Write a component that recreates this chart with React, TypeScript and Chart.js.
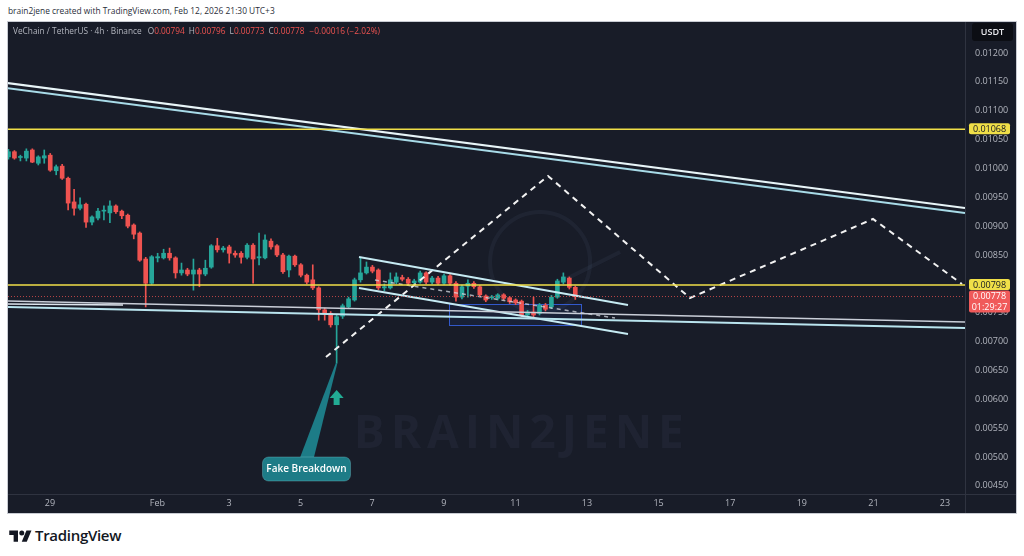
import React, { useEffect, useRef } from "react";
import { Chart, registerables } from "chart.js";

Chart.register(...registerables);

// ---------- texts ----------
const HEADER_TEXT = "brain2jene created with TradingView.com, Feb 12, 2026 21:30 UTC+3";
const SYMBOL_TITLE = "VeChain / TetherUS · 4h · Binance";
const QUOTE = "USDT";
const COUNTDOWN = "01:29:27";
const CALLOUT_TEXT = "Fake Breakdown";
const WATERMARK = "BRAIN2JENE";
const BRAND = "TradingView";

// ---------- time axis (days since Jan 29, 00:00) ----------
const X_MIN = -1.173;
const X_MAX = 25.559;
const xTickDays = [0, 3, 5, 7, 9, 11, 13, 15, 17, 19, 21, 23, 25];
const xTickLabels = ["29", "Feb", "3", "5", "7", "9", "11", "13", "15", "17", "19", "21", "23"];

// ---------- price axis ----------
const Y_MIN = 0.004358;
const Y_MAX = 0.012538;
const yTicks = [
  0.0045, 0.005, 0.0055, 0.006, 0.0065, 0.007, 0.0075, 0.008,
  0.0085, 0.009, 0.0095, 0.01, 0.0105, 0.011, 0.0115, 0.012,
];

// ---------- 4h candles ----------
const FIRST_CANDLE_DAY = -1.16;
const CANDLE_DAYS = 1 / 6;

const candleOpen = [
  0.0102, 0.01029, 0.01019, 0.01018, 0.01032, 0.01009, 0.01018, 0.01023, 0.00996, 0.01004,
  0.00983, 0.00942, 0.00931, 0.00938, 0.00907, 0.00914, 0.00926, 0.00923, 0.00935, 0.00926,
  0.00919, 0.00902, 0.00888, 0.00843, 0.00801, 0.00845, 0.00845, 0.00853, 0.00845, 0.00819,
  0.00824, 0.00817, 0.00824, 0.00817, 0.00829, 0.00866, 0.00859, 0.00864, 0.00853, 0.00853,
  0.00846, 0.00867, 0.00845, 0.00845, 0.00874, 0.00866, 0.0085, 0.00824, 0.00848, 0.00833,
  0.00815, 0.00807, 0.00793, 0.00755, 0.00749, 0.00729, 0.00744, 0.0076, 0.00772, 0.00807,
  0.00819, 0.00829, 0.00824, 0.00793, 0.00793, 0.00803, 0.00811, 0.00808, 0.00802, 0.00803,
  0.00819, 0.00803, 0.0081, 0.00801, 0.00814, 0.00801, 0.00777, 0.00796, 0.00801, 0.00795,
  0.00779, 0.00776, 0.00775, 0.00781, 0.00776, 0.00772, 0.0077, 0.00746, 0.00751, 0.00749,
  0.00763, 0.0076, 0.00777, 0.00803, 0.0081, 0.00794,
];
const candleHigh = [
  0.01033, 0.01031, 0.01023, 0.01034, 0.01034, 0.01022, 0.01032, 0.01026, 0.01006, 0.01007,
  0.00985, 0.00964, 0.00949, 0.0094, 0.00918, 0.00931, 0.00935, 0.00944, 0.00937, 0.00928,
  0.00921, 0.00904, 0.0089, 0.00846, 0.00849, 0.00853, 0.0086, 0.00862, 0.00847, 0.00836,
  0.00827, 0.00843, 0.00827, 0.00841, 0.00868, 0.00879, 0.00865, 0.00867, 0.00857, 0.00856,
  0.0087, 0.0087, 0.00888, 0.00885, 0.00878, 0.00868, 0.00853, 0.0085, 0.0085, 0.00835,
  0.00817, 0.00833, 0.00795, 0.00758, 0.00752, 0.00746, 0.00765, 0.00777, 0.0081, 0.00845,
  0.00838, 0.00832, 0.00826, 0.008, 0.00819, 0.00819, 0.00815, 0.00811, 0.00808, 0.00822,
  0.00821, 0.00813, 0.00813, 0.00817, 0.00816, 0.00804, 0.00798, 0.00807, 0.00804, 0.00797,
  0.00781, 0.0078, 0.00783, 0.00783, 0.00778, 0.00774, 0.00772, 0.00754, 0.00777, 0.00766,
  0.00766, 0.0078, 0.00808, 0.00819, 0.00812, 0.00796,
];
const candleLow = [
  0.01016, 0.01016, 0.01013, 0.01013, 0.0101, 0.01006, 0.01009, 0.00995, 0.00989, 0.00981,
  0.00928, 0.00919, 0.00928, 0.00898, 0.00902, 0.00911, 0.00911, 0.00906, 0.00922, 0.00913,
  0.00897, 0.00878, 0.00839, 0.0076, 0.00799, 0.00838, 0.00843, 0.00841, 0.0081, 0.00815,
  0.00814, 0.00789, 0.00795, 0.00814, 0.00827, 0.00855, 0.00855, 0.00836, 0.00846, 0.00836,
  0.00843, 0.00801, 0.00833, 0.00843, 0.0086, 0.00847, 0.00818, 0.00812, 0.0083, 0.00812,
  0.008, 0.0079, 0.00737, 0.00737, 0.00725, 0.00663, 0.0074, 0.00757, 0.0077, 0.00803,
  0.00817, 0.00819, 0.0079, 0.00788, 0.00791, 0.008, 0.00805, 0.00798, 0.00798, 0.00801,
  0.008, 0.008, 0.00799, 0.00799, 0.00798, 0.0077, 0.00774, 0.00777, 0.00792, 0.00778,
  0.00769, 0.00773, 0.00772, 0.00772, 0.00766, 0.00764, 0.00743, 0.00743, 0.00741, 0.00746,
  0.00753, 0.00757, 0.00775, 0.008, 0.00791, 0.00773,
];
const candleClose = [
  0.01029, 0.01018, 0.0102, 0.0103, 0.01011, 0.0102, 0.01022, 0.00997, 0.01003, 0.00983,
  0.0094, 0.00931, 0.00937, 0.00907, 0.00916, 0.00926, 0.00927, 0.00935, 0.00925, 0.00918,
  0.009, 0.00886, 0.00841, 0.00801, 0.00847, 0.00847, 0.00853, 0.00845, 0.00819, 0.00824,
  0.00817, 0.00824, 0.00817, 0.00827, 0.00866, 0.00859, 0.00862, 0.00853, 0.0085, 0.00846,
  0.00867, 0.00843, 0.00847, 0.00876, 0.00864, 0.0085, 0.00821, 0.00848, 0.00833, 0.00815,
  0.00803, 0.00793, 0.00755, 0.00749, 0.00729, 0.00743, 0.00762, 0.00774, 0.00807, 0.00819,
  0.00829, 0.00822, 0.00793, 0.00795, 0.00807, 0.00812, 0.00808, 0.00801, 0.00805, 0.00819,
  0.00803, 0.0081, 0.00801, 0.00814, 0.00801, 0.00777, 0.00795, 0.00801, 0.00795, 0.00781,
  0.00772, 0.00777, 0.00781, 0.00775, 0.00769, 0.00767, 0.00746, 0.00751, 0.00746, 0.00763,
  0.00756, 0.00777, 0.00805, 0.00812, 0.00794, 0.00778,
];

// ---------- drawings: [day, price] anchors ----------
const resistanceLevel = 0.01068;
const pivotLevel = 0.00798;
const channelTopA = [[-1.201, 0.011481], [25.559, 0.009314]];
const channelTopB = [[-1.201, 0.011394], [25.559, 0.009228]];
const supportA = [[-1.201, 0.007703], [25.559, 0.007339]];
const supportB = [[-1.201, 0.007599], [25.559, 0.007235]];
const supportShort = [[-1.201, 0.007651], [2.039, 0.007634]];
const flagUpper = [[8.631, 0.008465], [16.145, 0.007634]];
const flagLower = [[8.631, 0.007928], [16.145, 0.007131]];
const flagMid = [[9.078, 0.008066], [15.782, 0.007408]];
const projectionPath = [
  [7.709, 0.006732], [13.911, 0.009869], [17.877, 0.007755], [22.989, 0.009124], [25.475, 0.007997],
];
const zoneBox = [[11.145, 0.007651], [14.832, 0.007287]];
const BREAK_INDEX = 55;
const calloutAnchor = [7.165, 0.004791];
const arrowPrice = 0.006022;
const watermarkAnchor = [13.18, 0.00538];
const watermarkLogoAnchor = [13.69, 0.00838];

// ---------- styles ----------
const FONT = '"Open Sans", "Noto Sans", sans-serif';
const BG = "#181c28";
const UP = "#26a69a";
const DOWN = "#ef5350";
const AXIS_TEXT = "#b2b5be";
const YELLOW = "#f0df48";

const candleDays = candleOpen.map((_, i) => FIRST_CANDLE_DAY + i * CANDLE_DAYS);
const candleColors = candleOpen.map((o, i) => (candleClose[i] >= o ? UP : DOWN));
const lastIdx = candleClose.length - 1;
const lastClose = candleClose[lastIdx];
const change = lastClose - candleClose[lastIdx - 1];
const changePct = (change / candleClose[lastIdx - 1]) * 100;

const fmt = (v: number) => v.toFixed(5);
const signed = (v: number, d: number) => (v < 0 ? "\u2212" : "+") + Math.abs(v).toFixed(d);

function lineDs(label: string, pts: number[][], color: string, width: number, dash: number[] = []) {
  return {
    type: "line" as const,
    label,
    data: pts.map(([d, p]) => ({ x: d, y: p })),
    borderColor: color,
    borderWidth: width,
    borderDash: dash,
    pointRadius: 0,
    fill: false,
    tension: 0,
    order: 0,
  };
}

const zeroPad = (s: any) => {
  s.paddingTop = 0;
  s.paddingBottom = 0;
  s.paddingLeft = 0;
  s.paddingRight = 0;
};

const overlayPlugin = {
  id: "tvOverlays",
  beforeDatasetsDraw(chart: any) {
    const { ctx, chartArea: a, scales } = chart;
    const x = scales.x, y = scales.y;
    ctx.save();
    ctx.beginPath();
    ctx.rect(a.left, a.top, a.width, a.height);
    ctx.clip();
    // watermark
    ctx.font = `bold 46px ${FONT}`;
    (ctx as any).letterSpacing = "6px";
    ctx.fillStyle = "rgba(120,140,175,0.075)";
    ctx.textAlign = "center";
    ctx.textBaseline = "middle";
    ctx.fillText(WATERMARK, x.getPixelForValue(watermarkAnchor[0]), y.getPixelForValue(watermarkAnchor[1]));
    (ctx as any).letterSpacing = "0px";
    // faint watermark logo ring
    const lx = x.getPixelForValue(watermarkLogoAnchor[0]);
    const ly = y.getPixelForValue(watermarkLogoAnchor[1]);
    ctx.strokeStyle = "rgba(120,140,175,0.08)";
    ctx.lineWidth = 4;
    ctx.beginPath();
    ctx.arc(lx, ly, 50, 0, Math.PI * 2);
    ctx.stroke();
    ctx.beginPath();
    ctx.moveTo(lx + 20, ly + 20);
    ctx.lineTo(lx + 80, ly - 10);
    ctx.stroke();
    // zone rectangle
    const x1 = x.getPixelForValue(zoneBox[0][0]);
    const x2 = x.getPixelForValue(zoneBox[1][0]);
    const y1 = y.getPixelForValue(zoneBox[0][1]);
    const y2 = y.getPixelForValue(zoneBox[1][1]);
    ctx.fillStyle = "rgba(41,98,255,0.07)";
    ctx.fillRect(x1, y1, x2 - x1, y2 - y1);
    ctx.strokeStyle = "rgba(60,110,255,0.75)";
    ctx.lineWidth = 1;
    ctx.strokeRect(Math.round(x1) + 0.5, Math.round(y1) + 0.5, Math.round(x2 - x1), Math.round(y2 - y1));
    ctx.restore();
  },
  afterDatasetsDraw(chart: any) {
    const { ctx, scales } = chart;
    const x = scales.x, y = scales.y;
    ctx.save();
    // callout
    const tx = x.getPixelForValue(candleDays[BREAK_INDEX]);
    const ty = y.getPixelForValue(candleLow[BREAK_INDEX]);
    const bx = x.getPixelForValue(calloutAnchor[0]);
    const by = y.getPixelForValue(calloutAnchor[1]);
    const bw = 88, bh = 24;
    ctx.fillStyle = "#1d7c87";
    ctx.beginPath();
    ctx.moveTo(bx - 7, by - bh / 2 + 2);
    ctx.lineTo(tx - 0.8, ty);
    ctx.lineTo(tx + 0.8, ty);
    ctx.lineTo(bx + 7, by - bh / 2 + 2);
    ctx.closePath();
    ctx.fill();
    ctx.beginPath();
    ctx.roundRect(bx - bw / 2, by - bh / 2, bw, bh, 6);
    ctx.fill();
    ctx.strokeStyle = "rgba(120,200,210,0.35)";
    ctx.lineWidth = 1;
    ctx.stroke();
    ctx.fillStyle = "#ffffff";
    ctx.font = `600 10px ${FONT}`;
    ctx.textAlign = "center";
    ctx.textBaseline = "middle";
    ctx.fillText(CALLOUT_TEXT, bx, by + 0.5);
    // green up arrow
    const ay = y.getPixelForValue(arrowPrice);
    ctx.fillStyle = "#22ab94";
    ctx.beginPath();
    ctx.moveTo(tx, ay - 8);
    ctx.lineTo(tx + 7, ay);
    ctx.lineTo(tx + 3, ay);
    ctx.lineTo(tx + 3, ay + 7);
    ctx.lineTo(tx - 3, ay + 7);
    ctx.lineTo(tx - 3, ay);
    ctx.lineTo(tx - 7, ay);
    ctx.closePath();
    ctx.fill();
    ctx.restore();
  },
  afterDraw(chart: any) {
    const { ctx, chartArea: a, scales, width } = chart;
    const y = scales.y;
    ctx.save();
    // axis separators
    ctx.strokeStyle = "#2f3340";
    ctx.lineWidth = 1;
    ctx.beginPath();
    ctx.moveTo(a.right + 0.5, 0);
    ctx.lineTo(a.right + 0.5, chart.height);
    ctx.moveTo(0, a.bottom + 0.5);
    ctx.lineTo(width, a.bottom + 0.5);
    ctx.stroke();
    // quote box
    ctx.fillStyle = "#0c0e14";
    ctx.beginPath();
    ctx.roundRect(a.right + 7, 1, 41, 18, 3);
    ctx.fill();
    ctx.fillStyle = "#e9eaee";
    ctx.font = `600 9px ${FONT}`;
    ctx.textAlign = "center";
    ctx.textBaseline = "middle";
    ctx.fillText(QUOTE, a.right + 27.5, 10.5);
    // price tags
    const tagX = a.right + 4;
    const tagW = 41;
    const tag = (v: number, bg: string, fg: string, h: number, lines: string[]) => {
      const py = y.getPixelForValue(v);
      const top = py - 6;
      ctx.fillStyle = bg;
      ctx.beginPath();
      ctx.roundRect(tagX, top, tagW, h, 2);
      ctx.fill();
      ctx.fillStyle = fg;
      ctx.font = `9px ${FONT}`;
      ctx.textAlign = "center";
      ctx.textBaseline = "middle";
      lines.forEach((t, k) => ctx.fillText(t, tagX + tagW / 2, py + k * 10.5));
    };
    tag(resistanceLevel, YELLOW, "#131722", 11, [fmt(resistanceLevel)]);
    tag(pivotLevel, YELLOW, "#131722", 11, [fmt(pivotLevel)]);
    tag(lastClose, "#f05a5a", "#ffffff", 22, [fmt(lastClose), COUNTDOWN]);
    ctx.restore();
  },
};

export default function App() {
  const ref = useRef<HTMLCanvasElement>(null);

  useEffect(() => {
    if (!ref.current) return;
    const datasets: any[] = [
      lineDs("resistance", [[X_MIN, resistanceLevel], [X_MAX, resistanceLevel]], YELLOW, 1.5),
      lineDs("pivot", [[X_MIN, pivotLevel], [X_MAX, pivotLevel]], YELLOW, 1.5),
      lineDs("last price", [[X_MIN, lastClose], [X_MAX, lastClose]], "rgba(239,83,80,0.75)", 1, [1, 2]),
      lineDs("channel top A", channelTopA, "#e8f5f8", 2),
      lineDs("channel top B", channelTopB, "#a8dbe8", 2),
      lineDs("support A", supportA, "#c9ced8", 1.5),
      lineDs("support B", supportB, "#b9e4ee", 2),
      lineDs("support short", supportShort, "#dfe6ee", 1.5),
      lineDs("flag upper", flagUpper, "#c6ebf3", 2),
      lineDs("flag lower", flagLower, "#c6ebf3", 2),
      lineDs("flag mid", flagMid, "rgba(215,218,225,0.75)", 1.5, [4, 4]),
      lineDs("projection", projectionPath, "#f2f2f2", 2, [6, 5]),
      {
        type: "bar",
        label: "body",
        data: candleDays.map((d, i) => ({ x: d, y: [candleOpen[i], candleClose[i]] })),
        backgroundColor: candleColors,
        barThickness: 4,
        minBarLength: 1,
        grouped: false,
        order: 1,
      },
      {
        type: "bar",
        label: "wick",
        data: candleDays.map((d, i) => ({ x: d, y: [candleLow[i], candleHigh[i]] })),
        backgroundColor: candleColors,
        barThickness: 1,
        grouped: false,
        order: 2,
      },
    ];
    const chart = new Chart(ref.current, {
      type: "bar",
      data: { datasets },
      plugins: [overlayPlugin],
      options: {
        responsive: false,
        maintainAspectRatio: false,
        animation: false,
        events: [],
        layout: { padding: 0 },
        plugins: { legend: { display: false }, tooltip: { enabled: false } },
        scales: {
          x: {
            type: "linear",
            min: X_MIN,
            max: X_MAX,
            offset: false,
            grid: { display: false, drawTicks: false },
            border: { display: false },
            afterBuildTicks: (s: any) => {
              s.ticks = xTickDays.map((v) => ({ value: v }));
            },
            afterFit: (s: any) => {
              s.height = 19;
              zeroPad(s);
            },
            ticks: {
              autoSkip: false,
              maxRotation: 0,
              padding: 4,
              color: AXIS_TEXT,
              font: { size: 9, family: FONT },
              callback: (v: any) => {
                const k = xTickDays.indexOf(Number(v));
                return k >= 0 ? xTickLabels[k] : "";
              },
            },
          },
          y: {
            type: "linear",
            position: "right",
            min: Y_MIN,
            max: Y_MAX,
            grid: { display: false, drawTicks: false },
            border: { display: false },
            afterBuildTicks: (s: any) => {
              s.ticks = yTicks.map((v) => ({ value: v }));
            },
            afterFit: (s: any) => {
              s.width = 51;
              zeroPad(s);
            },
            ticks: {
              autoSkip: false,
              padding: 10,
              color: AXIS_TEXT,
              font: { size: 9, family: FONT },
              callback: (v: any) => fmt(Number(v)),
            },
          },
        },
      } as any,
    } as any);
    return () => chart.destroy();
  }, []);

  const valStyle = { color: "#ef5350" };
  const lblStyle = { color: "#b2b5be", marginLeft: 4 };

  return (
    <div
      style={{
        position: "fixed",
        left: 0,
        top: 0,
        width: 1024,
        height: 556,
        background: "#ffffff",
        overflow: "hidden",
        fontFamily: FONT,
      }}
    >
      <div
        style={{
          position: "absolute",
          left: 8,
          top: 4,
          fontSize: 8.4,
          lineHeight: "14px",
          color: "#2a2e39",
          whiteSpace: "nowrap",
        }}
      >
        {HEADER_TEXT}
      </div>
      <div
        style={{
          position: "absolute",
          left: 7,
          top: 21,
          width: 1010,
          height: 493,
          boxSizing: "border-box",
          border: "1px solid #c8cbd2",
          background: BG,
        }}
      >
        <canvas ref={ref} width={1008} height={491} style={{ display: "block", width: 1008, height: 491 }} />
        <div
          style={{
            position: "absolute",
            left: 5,
            top: 3,
            fontSize: 8.3,
            lineHeight: "12px",
            color: "#b2b5be",
            whiteSpace: "nowrap",
          }}
        >
          <span>{SYMBOL_TITLE}</span>
          <span style={{ ...lblStyle, marginLeft: 6 }}>O</span>
          <span style={valStyle}>{fmt(candleOpen[lastIdx])}</span>
          <span style={lblStyle}>H</span>
          <span style={valStyle}>{fmt(candleHigh[lastIdx])}</span>
          <span style={lblStyle}>L</span>
          <span style={valStyle}>{fmt(candleLow[lastIdx])}</span>
          <span style={lblStyle}>C</span>
          <span style={valStyle}>{fmt(lastClose)}</span>
          <span style={{ ...valStyle, marginLeft: 5 }}>
            {signed(change, 5)} ({signed(changePct, 2)}%)
          </span>
        </div>
      </div>
      <svg
        style={{ position: "absolute", left: 9, top: 528 }}
        width={23}
        height={15}
        viewBox="0 0 36 24"
      >
        <path d="M14 22H7V11H0V4h14v18z" fill="#131722" />
        <circle cx="20" cy="8" r="4" fill="#131722" />
        <path d="M28 22h-8l7.5-18h8L28 22z" fill="#131722" />
      </svg>
      <div
        style={{
          position: "absolute",
          left: 35,
          top: 525,
          fontSize: 15,
          lineHeight: "20px",
          fontWeight: 600,
          color: "#131722",
          letterSpacing: -0.3,
        }}
      >
        {BRAND}
      </div>
    </div>
  );
}
